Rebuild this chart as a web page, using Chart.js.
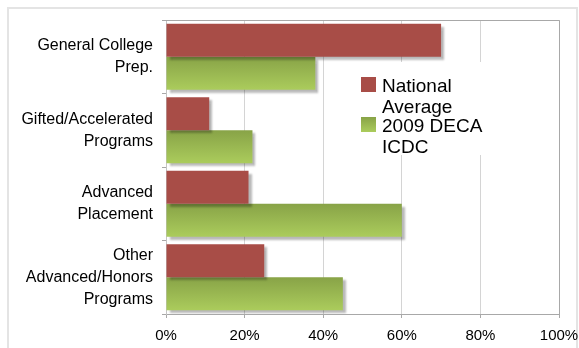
<!DOCTYPE html>
<html>
<head>
<meta charset="utf-8">
<script src="https://cdn.jsdelivr.net/npm/chart.js@4"></script>
<style>
  body { margin: 0; background: #fff; font-family: "Liberation Sans", Arial, sans-serif; }
  #wrap { position: relative; width: 579px; height: 348px; overflow: hidden; }
  #frame { position: absolute; left: 7px; top: 7px; width: 567px; height: 360px; border: 2px solid #e4e4e4; }
  canvas { position: absolute; left: 0; top: 0; }
  #legend { position: absolute; left: 352px; top: 62px; width: 138px; height: 93px; background: #fff; }
  .item { position: relative; height: 40px; }
  .item:first-child { margin-top: 13px; }
  .box { position: absolute; left: 9px; top: 2px; width: 15px; height: 15px; }
  .txt { position: absolute; left: 30px; top: 0; width: 112px; font-size: 19px; line-height: 21px; color: #000; }
</style>
</head>
<body>
<div id="wrap">
  <div id="frame"></div>
  <canvas id="chart" width="579" height="348"></canvas>
  <div id="legend"></div>
</div>
<script>
// categories and series
const categories = [
  ['General College', 'Prep.'],
  ['Gifted/Accelerated', 'Programs'],
  ['Advanced', 'Placement'],
  ['Other', 'Advanced/Honors', 'Programs']
];
const seriesNames = ['National Average', '2009 DECA ICDC'];
const nationalAverage = [70, 11, 21, 25];
const decaIcdc = [38, 22, 60, 45];
const xTicks = ['0%', '20%', '40%', '60%', '80%', '100%'];

const red = '#a84d47';
const greenTop = '#88a347';
const greenBottom = '#abcc5c';

// green bars get a vertical gradient, all bars a small drop shadow
const barStyle = {
  id: 'barStyle',
  beforeDatasetDraw(chart, args) {
    const ctx = chart.ctx;
    if (args.index === 1) {
      args.meta.data.forEach((bar) => {
        const g = ctx.createLinearGradient(0, bar.y - bar.height / 2, 0, bar.y + bar.height / 2);
        g.addColorStop(0, greenTop);
        g.addColorStop(1, greenBottom);
        // options object is shared between bars, so give each its own copy
        bar.options = Object.assign({}, bar.options, { backgroundColor: g });
      });
    }
    ctx.save();
    ctx.shadowColor = 'rgba(0,0,0,0.28)';
    ctx.shadowOffsetX = 3;
    ctx.shadowOffsetY = 3;
    ctx.shadowBlur = 2;
  },
  afterDatasetDraw(chart) {
    chart.ctx.restore();
  },
  afterDraw(chart) {
    const a = chart.chartArea;
    const ctx = chart.ctx;
    ctx.save();
    ctx.strokeStyle = '#a8a8a8';
    ctx.lineWidth = 1;
    ctx.beginPath();
    ctx.moveTo(a.left, a.top + 0.5);
    ctx.lineTo(a.right + 0.5, a.top + 0.5);
    ctx.lineTo(a.right + 0.5, a.bottom);
    ctx.stroke();
    ctx.restore();
  }
};

const ctx = document.getElementById('chart').getContext('2d');
new Chart(ctx, {
  type: 'bar',
  data: {
    labels: categories,
    datasets: [
      { label: seriesNames[0], data: nationalAverage, backgroundColor: red },
      { label: seriesNames[1], data: decaIcdc, backgroundColor: greenBottom }
    ]
  },
  options: {
    indexAxis: 'y',
    responsive: false,
    animation: false,
    categoryPercentage: 0.9,
    barPercentage: 1.0,
    layout: { padding: { left: 0, top: 20, right: 20, bottom: 0 } },
    plugins: {
      legend: { display: false },
      tooltip: { enabled: false }
    },
    scales: {
      x: {
        min: 0,
        max: 100,
        ticks: {
          stepSize: 20,
          padding: 9,
          color: '#000',
          font: { family: 'Liberation Sans', size: 15 },
          callback: (v, i) => xTicks[i]
        },
        grid: { color: '#d4d4d4', tickLength: 4, tickColor: '#a8a8a8' },
        border: { color: '#a8a8a8' },
        afterFit: (s) => {
          s.height = 34;
          s.paddingLeft = 0;
          s.paddingRight = 0;
        }
      },
      y: {
        ticks: {
          autoSkip: false,
          padding: 9,
          color: '#000',
          font: { family: 'Liberation Sans', size: 16, lineHeight: 1.38 }
        },
        grid: { drawOnChartArea: false, tickLength: 4, color: '#a8a8a8' },
        border: { color: '#c4c4c4' },
        afterFit: (s) => {
          s.width = 166;
          s.paddingTop = 0;
          s.paddingBottom = 0;
        }
      }
    }
  },
  plugins: [barStyle]
});

// legend, drawn as html text over a white box
const legend = document.getElementById('legend');
seriesNames.forEach((name, i) => {
  const item = document.createElement('div');
  item.className = 'item';
  const box = document.createElement('div');
  box.className = 'box';
  box.style.background = i === 0 ? red : 'linear-gradient(' + greenTop + ',' + greenBottom + ')';
  const txt = document.createElement('div');
  txt.className = 'txt';
  txt.innerHTML = name;
  item.appendChild(box);
  item.appendChild(txt);
  legend.appendChild(item);
});
</script>
</body>
</html>
